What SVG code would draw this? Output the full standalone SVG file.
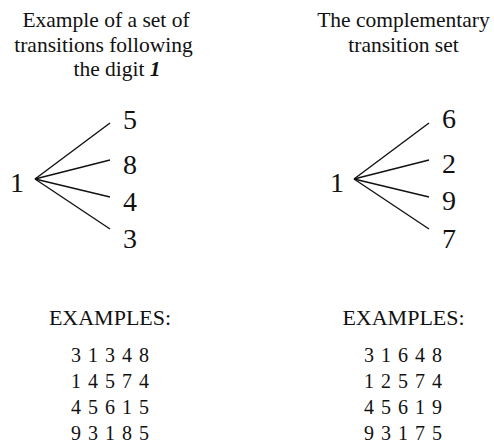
<svg xmlns="http://www.w3.org/2000/svg" width="494" height="444" viewBox="0 0 494 444" font-family="'Liberation Serif', 'DejaVu Serif', serif">
<style>
.t,.d,.h,.e{font-family:'Liberation Serif','DejaVu Serif',serif;fill:#111}
.t{font-size:21.5px;text-anchor:middle}
.d{font-size:28px}
.h{font-size:22px;text-anchor:middle}
.e{font-size:20px;letter-spacing:1px}
.c line{stroke:#111;stroke-width:1.4}
</style>
<rect width="494" height="444" fill="#fff"/>
<g id="title-left">
<text class="t" x="106" y="27">Example of a set of</text>
<text class="t" x="103.5" y="52">transitions following</text>
<text class="t" x="117" y="76">the digit <tspan font-weight="bold" font-style="italic">1</tspan></text>
</g>
<g id="title-right">
<text class="t" x="403.5" y="27">The complementary</text>
<text class="t" x="403.5" y="52">transition set</text>
</g>
<g id="left-root"><text class="d" x="10" y="192">1</text></g>
<g id="left-5"><text class="d" x="123" y="129">5</text></g>
<g id="left-8"><text class="d" x="123" y="174">8</text></g>
<g id="left-4"><text class="d" x="123" y="211">4</text></g>
<g id="left-3"><text class="d" x="123" y="248">3</text></g>
<g id="right-root"><text class="d" x="330" y="192">1</text></g>
<g id="right-6"><text class="d" x="442" y="128">6</text></g>
<g id="right-2"><text class="d" x="442" y="173">2</text></g>
<g id="right-9"><text class="d" x="442" y="210">9</text></g>
<g id="right-7"><text class="d" x="442" y="248">7</text></g>
<g class="c" id="connectors">
<line x1="35" y1="179" x2="110" y2="123"/>
<line x1="35" y1="179" x2="110" y2="160"/>
<line x1="35" y1="179" x2="110" y2="197"/>
<line x1="35" y1="179" x2="110" y2="229"/>
<line x1="354" y1="179" x2="429" y2="123"/>
<line x1="354" y1="179" x2="429" y2="160"/>
<line x1="354" y1="179" x2="429" y2="197"/>
<line x1="354" y1="179" x2="429" y2="229"/>
</g>
<g id="examples-left">
<text class="h" x="110" y="325">EXAMPLES:</text>
<text class="e" x="71" y="362">3 1 3 4 8</text>
<text class="e" x="71" y="388">1 4 5 7 4</text>
<text class="e" x="71" y="414">4 5 6 1 5</text>
<text class="e" x="71" y="440">9 3 1 8 5</text>
</g>
<g id="examples-right">
<text class="h" x="403.5" y="325">EXAMPLES:</text>
<text class="e" x="364" y="362">3 1 6 4 8</text>
<text class="e" x="364" y="388">1 2 5 7 4</text>
<text class="e" x="364" y="414">4 5 6 1 9</text>
<text class="e" x="364" y="440">9 3 1 7 5</text>
</g>
</svg>
